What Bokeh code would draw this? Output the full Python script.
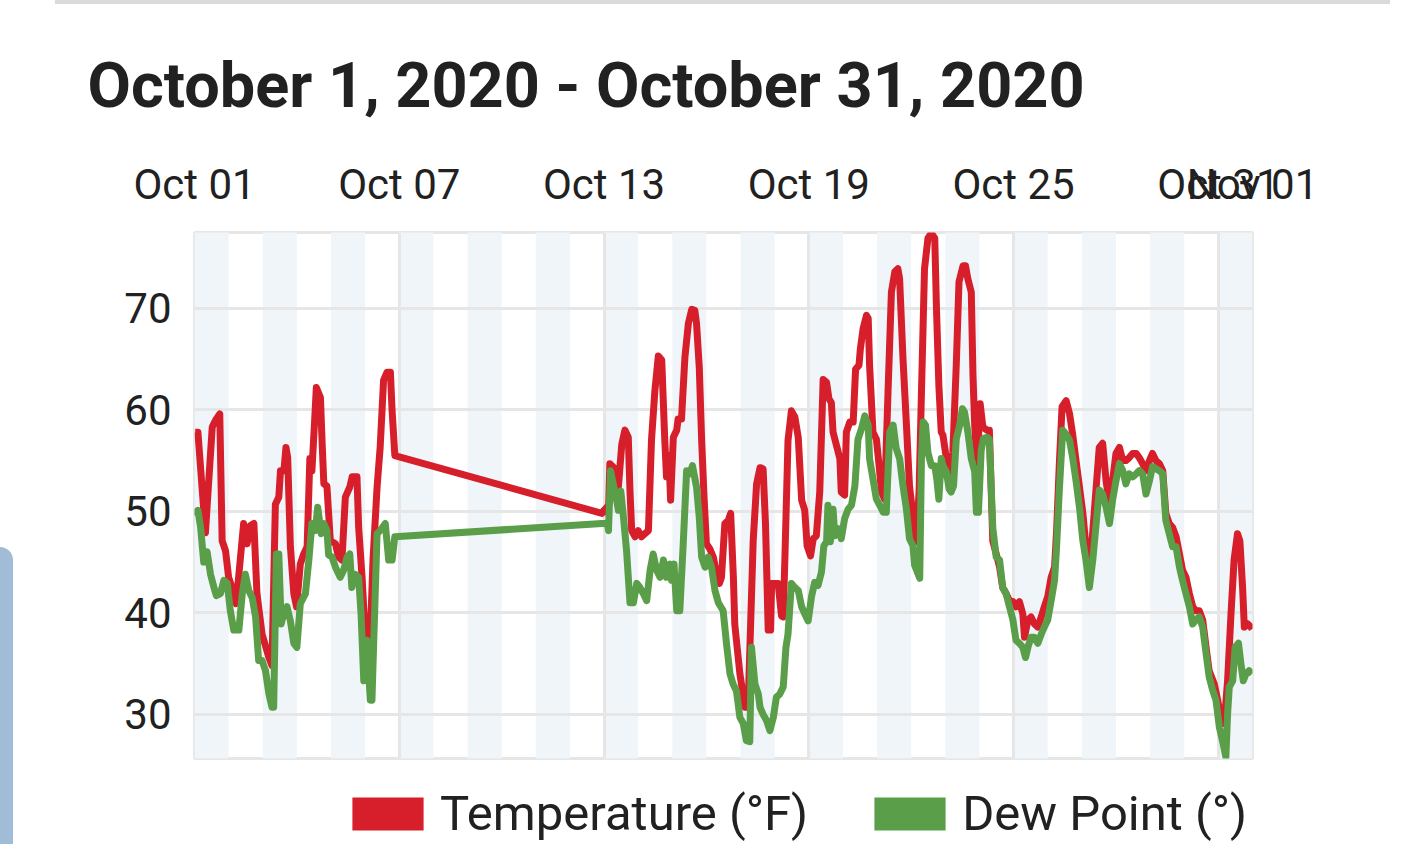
import pandas as pd
from bokeh.plotting import figure
from bokeh.models import (Range1d, FixedTicker, DatetimeTickFormatter, Legend,
                          LegendItem, Div)
from bokeh.layouts import column
from bokeh.embed import file_html
from bokeh.resources import INLINE

title_text = "October 1, 2020 - October 31, 2020"
series_names = ["Temperature (°F)", "Dew Point (°)"]
tick_dates = ["2020-10-01", "2020-10-07", "2020-10-13", "2020-10-19",
              "2020-10-25", "2020-10-31", "2020-11-01"]
y_ticks = [30, 40, 50, 60, 70]
band_dates = ["2020-10-%02d" % d for d in range(1, 32, 2)]

# time as days since Oct 1 00:00
temp_day = [0.02, 0.10, 0.32, 0.52, 0.62, 0.74, 0.81, 0.91, 1.00, 1.13, 1.22, 1.44,
            1.54, 1.64, 1.74, 1.83, 1.98, 2.18, 2.27, 2.37, 2.47, 2.52, 2.62, 2.68,
            2.73, 2.81, 2.91, 2.99, 3.10, 3.20, 3.30, 3.38, 3.44, 3.51, 3.57, 3.69,
            3.74, 3.79, 3.88, 3.98, 4.13, 4.22, 4.32, 4.42, 4.55, 4.62, 4.76, 4.81,
            4.91, 5.00, 5.15, 5.23, 5.35, 5.44, 5.54, 5.64, 5.74, 5.79, 5.87,
            11.94, 12.00, 12.08, 12.13, 12.17, 12.32, 12.42, 12.52, 12.61, 12.71,
            12.76, 12.81, 12.91, 13.00, 13.10, 13.20, 13.30, 13.39, 13.49, 13.59,
            13.69, 13.78, 13.83, 13.90, 13.95, 14.03, 14.13, 14.17, 14.27, 14.37,
            14.47, 14.57, 14.66, 14.71, 14.79, 14.86, 14.93, 15.00, 15.10, 15.20,
            15.30, 15.38, 15.44, 15.54, 15.64, 15.71, 15.79, 15.83, 15.98, 16.13,
            16.22, 16.37, 16.47, 16.57, 16.66, 16.73, 16.81, 16.88, 16.91, 17.00,
            17.10, 17.20, 17.25, 17.30, 17.39, 17.49, 17.59, 17.69, 17.79, 17.88,
            17.95, 18.05, 18.13, 18.22, 18.32, 18.42, 18.52, 18.59, 18.66, 18.71,
            18.81, 18.91, 18.95, 19.05, 19.10, 19.20, 19.30, 19.37, 19.47, 19.51,
            19.59, 19.69, 19.74, 19.78, 19.88, 19.98, 20.06, 20.13, 20.22, 20.32,
            20.42, 20.52, 20.61, 20.66, 20.76, 20.86, 20.95, 21.05, 21.15, 21.23,
            21.30, 21.39, 21.49, 21.59, 21.69, 21.74, 21.81, 21.88, 21.93, 22.03,
            22.13, 22.22, 22.32, 22.40, 22.52, 22.59, 22.66, 22.76, 22.81, 22.86,
            22.93, 23.02, 23.10, 23.22, 23.29, 23.39, 23.49, 23.59, 23.68, 23.78,
            23.88, 23.98, 24.07, 24.17, 24.27, 24.32, 24.42, 24.51, 24.61, 24.71,
            24.81, 24.90, 25.00, 25.10, 25.20, 25.26, 25.34, 25.42, 25.54, 25.64,
            25.73, 25.83, 25.93, 26.03, 26.12, 26.22, 26.30, 26.42, 26.51, 26.61,
            26.71, 26.81, 26.90, 27.00, 27.10, 27.20, 27.29, 27.39, 27.49, 27.59,
            27.68, 27.78, 27.88, 27.98, 28.07, 28.17, 28.27, 28.37, 28.46, 28.56,
            28.66, 28.76, 28.86, 28.95, 29.05, 29.15, 29.25, 29.34, 29.44, 29.54,
            29.64, 29.73, 29.88, 29.98, 30.07, 30.17, 30.27, 30.37, 30.46, 30.56,
            30.63, 30.71, 30.76, 30.86, 30.95, 30.99]
temp_f = [57.8, 57.8, 47.9, 58.3, 59.0, 59.6, 47.1, 46.1, 43.5, 42.2, 40.9, 48.8,
          46.8, 48.6, 48.8, 41.9, 37.9, 35.6, 34.8, 50.7, 51.4, 54.0, 54.0, 56.3,
          55.3, 46.5, 41.9, 40.6, 44.8, 45.8, 46.5, 55.2, 54.0, 58.3, 62.2, 61.2,
          56.7, 52.7, 52.5, 47.1, 46.8, 45.5, 45.2, 51.4, 52.4, 53.4, 53.4, 48.4,
          43.5, 37.9, 37.6, 45.2, 52.4, 56.3, 62.9, 63.7, 63.7, 59.9, 55.5,
          49.8, 50.1, 50.4, 49.8, 54.7, 54.2, 52.4, 56.6, 58.0, 57.3,
          52.0, 48.1, 47.5, 48.1, 47.5, 47.8, 48.1, 57.0, 61.9, 65.3,
          64.9, 57.0, 53.4, 55.5, 51.1, 57.3, 58.0, 59.1, 59.1, 65.2,
          68.5, 69.9, 69.8, 68.5, 64.2, 57.0, 51.4, 46.8, 46.3, 45.5,
          43.8, 42.9, 43.5, 48.8, 49.1, 49.8, 43.5, 38.9, 34.0, 30.7,
          30.7, 47.1, 52.7, 54.3, 54.2, 48.8, 38.3, 38.3, 42.9, 42.9,
          42.9, 39.7, 39.6, 45.5, 57.0, 59.9, 59.3, 57.3, 51.1, 50.1,
          46.6, 45.6, 47.3, 47.6, 51.9, 63.0, 62.7, 61.1, 60.7, 57.8,
          56.5, 55.2, 51.9, 51.6, 57.8, 58.8, 58.8, 64.0, 64.4, 66.0,
          68.0, 69.3, 69.0, 64.4, 57.8, 57.1, 54.5, 51.9, 51.2, 61.7,
          71.6, 73.6, 73.9, 72.9, 65.0, 58.5, 52.5, 49.6, 47.0, 51.9,
          61.7, 73.9, 76.9, 77.4, 76.9, 70.0, 62.4, 57.8, 57.5, 55.2,
          53.9, 55.8, 64.4, 72.6, 74.2, 74.2, 72.9, 71.6, 63.4, 58.5,
          54.5, 60.6, 58.3, 58.0, 58.0, 47.1, 45.8, 44.5, 42.5, 41.9,
          41.2, 41.1, 40.6, 41.1, 39.9, 37.6, 39.3, 39.6, 38.9, 38.6,
          39.6, 40.6, 41.6, 43.5, 44.5, 48.1, 54.7, 60.3, 60.9, 59.6,
          57.6, 55.0, 52.4, 49.8, 46.5, 44.5, 47.1, 52.4, 56.3, 56.7,
          53.0, 50.7, 53.0, 55.7, 56.3, 55.0, 55.0, 55.3, 55.7, 55.7,
          55.3, 54.7, 54.0, 55.0, 55.7, 55.0, 54.7, 54.0, 49.8, 48.8,
          48.4, 47.5, 45.8, 44.2, 43.5, 41.9, 40.6, 40.2, 40.2, 39.3,
          36.6, 34.3, 33.0, 31.4, 29.7, 29.1, 33.3, 39.9, 45.2, 47.8,
          47.1, 42.5, 38.6, 38.9, 38.6, 38.4]

dew_day = [0.00, 0.10, 0.18, 0.27, 0.37, 0.47, 0.57, 0.64, 0.76, 0.86, 0.96, 1.05,
           1.15, 1.30, 1.40, 1.49, 1.59, 1.69, 1.79, 1.88, 1.98, 2.08, 2.18, 2.27,
           2.32, 2.40, 2.47, 2.54, 2.61, 2.71, 2.81, 2.91, 3.00, 3.10, 3.25, 3.35,
           3.44, 3.54, 3.61, 3.71, 3.79, 3.88, 3.93, 4.03, 4.13, 4.27, 4.37, 4.47,
           4.55, 4.61, 4.71, 4.81, 4.88, 4.96, 5.05, 5.15, 5.20, 5.25, 5.35, 5.44,
           5.59, 5.69, 5.79, 5.87,
           11.94, 12.10, 12.13, 12.19, 12.27, 12.35, 12.42, 12.49, 12.57, 12.66,
           12.76, 12.86, 12.96, 13.05, 13.15, 13.25, 13.35, 13.44, 13.54, 13.64,
           13.74, 13.83, 13.93, 13.98, 14.05, 14.13, 14.22, 14.32, 14.42, 14.52,
           14.59, 14.71, 14.79, 14.86, 14.96, 15.05, 15.15, 15.25, 15.35, 15.49,
           15.59, 15.69, 15.78, 15.88, 15.98, 16.08, 16.17, 16.27, 16.32, 16.42,
           16.52, 16.57, 16.66, 16.76, 16.86, 16.96, 17.05, 17.15, 17.25, 17.33,
           17.39, 17.49, 17.59, 17.69, 17.79, 17.88, 17.98, 18.08, 18.17, 18.27,
           18.37, 18.44, 18.52, 18.56, 18.63, 18.71, 18.76, 18.86, 18.95, 19.05,
           19.15, 19.25, 19.35, 19.44, 19.54, 19.64, 19.74, 19.78, 19.88, 19.98,
           20.08, 20.18, 20.27, 20.37, 20.47, 20.56, 20.66, 20.76, 20.86, 20.95,
           21.05, 21.10, 21.25, 21.30, 21.35, 21.42, 21.49, 21.59, 21.69, 21.75,
           21.81, 21.88, 21.93, 22.03, 22.11, 22.17, 22.24, 22.32, 22.42, 22.50,
           22.56, 22.66, 22.76, 22.86, 22.91, 22.97, 23.05, 23.12, 23.22, 23.29,
           23.39, 23.49, 23.59, 23.68, 23.78, 23.88, 23.98, 24.07, 24.17, 24.27,
           24.35, 24.42, 24.51, 24.61, 24.71, 24.81, 24.90, 25.00, 25.10, 25.20,
           25.26, 25.34, 25.44, 25.54, 25.64, 25.73, 25.83, 25.93, 26.03, 26.12,
           26.22, 26.32, 26.42, 26.51, 26.61, 26.71, 26.81, 26.90, 27.00, 27.10,
           27.20, 27.29, 27.39, 27.49, 27.59, 27.68, 27.78, 27.88, 27.98, 28.07,
           28.17, 28.27, 28.37, 28.46, 28.56, 28.66, 28.76, 28.86, 28.95, 29.05,
           29.15, 29.25, 29.34, 29.44, 29.54, 29.64, 29.73, 29.83, 29.93, 30.03,
           30.12, 30.22, 30.27, 30.32, 30.42, 30.49, 30.59, 30.66, 30.73, 30.81,
           30.90, 30.99]
dew_f = [49.6, 50.1, 48.4, 45.0, 46.0, 43.8, 42.5, 41.7, 41.9, 43.2, 42.9, 40.2,
         38.3, 38.3, 41.9, 43.8, 42.2, 41.5, 39.6, 35.3, 35.3, 34.3, 32.0, 30.7,
         30.7, 45.8, 45.8, 38.9, 39.9, 40.6, 39.2, 37.0, 36.6, 40.9, 41.9, 45.2,
         48.8, 48.1, 50.4, 47.8, 48.8, 48.1, 45.7, 45.5, 44.5, 43.5, 44.2, 45.5,
         45.8, 42.5, 43.8, 43.5, 39.9, 33.3, 37.3, 31.4, 31.4, 37.0, 47.8, 48.1,
         48.8, 45.2, 45.2, 47.5,
         48.8, 48.8, 48.1, 54.0, 52.7, 51.4, 50.1, 52.0, 49.4, 46.1,
         41.0, 41.0, 42.9, 42.5, 41.9, 41.2, 44.2, 45.8, 44.2, 43.5,
         45.2, 43.5, 44.8, 43.2, 44.8, 40.2, 40.2, 46.8, 54.0, 53.7,
         54.5, 52.4, 49.4, 45.5, 44.5, 45.5, 44.5, 42.2, 41.0, 40.2,
         36.9, 34.0, 33.0, 32.3, 29.7, 29.1, 27.4, 27.3, 36.6, 33.0,
         32.0, 30.7, 30.0, 29.4, 28.4, 29.7, 31.7, 32.0, 32.7, 36.6,
         37.9, 42.9, 42.5, 42.2, 40.6, 39.9, 39.2, 41.6, 43.0, 42.7,
         44.0, 46.6, 47.0, 50.6, 47.0, 50.2, 47.6, 48.3, 47.3, 49.3,
         50.2, 50.6, 52.5, 57.1, 58.1, 59.4, 58.5, 55.2, 53.2, 51.2,
         50.6, 49.9, 49.9, 57.8, 58.5, 56.2, 55.2, 52.5, 50.2, 47.3,
         46.6, 44.7, 43.4, 55.2, 58.8, 58.5, 55.8, 54.5, 54.5, 53.2,
         51.2, 55.2, 54.5, 53.9, 52.2, 51.9, 52.5, 57.1, 58.5, 60.1,
         59.8, 57.8, 55.2, 53.9, 49.9, 49.9, 56.0, 57.2, 57.3, 57.1,
         48.4, 45.5, 45.2, 42.5, 41.9, 40.6, 39.3, 37.3, 37.0, 36.6,
         35.6, 36.6, 37.6, 37.6, 37.0, 37.9, 38.6, 39.3, 41.2, 43.2,
         46.5, 52.1, 58.0, 57.6, 57.0, 55.3, 53.0, 50.4, 47.1, 45.2,
         42.5, 45.2, 48.8, 52.1, 51.7, 50.4, 48.8, 51.1, 53.0, 54.7,
         54.0, 52.7, 53.7, 53.4, 53.7, 54.0, 53.7, 51.7, 53.0, 54.4,
         54.2, 54.0, 53.7, 49.1, 47.8, 46.5, 46.5, 44.5, 43.2, 41.9,
         40.6, 38.9, 39.3, 39.6, 38.6, 36.0, 33.7, 32.4, 31.4, 28.7,
         27.4, 25.8, 30.0, 32.7, 33.3, 36.6, 37.0, 35.0, 33.3, 34.0,
         34.3, 34.0]

RED = "#d61f2b"
GREEN = "#5a9e49"
TEXT = "#212121"
GRID = "#e6e6e6"
BAND = "#f0f5fa"

start = pd.Timestamp("2020-10-01")
def to_time(days):
    return start + pd.to_timedelta(days, unit="D")

W = 1399
p = figure(width=W, height=764, x_axis_type="datetime", x_axis_location="above",
           x_range=Range1d(start, pd.Timestamp("2020-11-01")),
           y_range=Range1d(25.65, 77.47),
           output_backend="svg", toolbar_location=None,
           min_border_left=194, min_border_right=W - 1252,
           min_border_top=232, min_border_bottom=6,
           title=title_text)
p.background_fill_color = "white"
p.border_fill_color = "white"
p.outline_line_color = GRID
p.outline_line_width = 3

p.title.text_font = "Roboto"
p.title.text_font_style = "bold"
p.title.text_font_size = "63px"
p.title.text_color = TEXT
p.title.align = "left"
p.title.offset = -107
p.title.standoff = 69

# day bands
bl = pd.to_datetime(band_dates)
br = bl + pd.Timedelta(days=1)
bands = p.quad(left=bl, right=br, bottom=0, top=100, fill_color=BAND,
               line_color=None)
bands.level = "image"

xt = [pd.Timestamp(d).value // 10**6 for d in tick_dates]
p.xaxis.ticker = FixedTicker(ticks=xt)
p.xaxis.formatter = DatetimeTickFormatter(days="%b %d", months="%b %d",
                                          hours="%b %d", years="%b %d")
p.yaxis.ticker = FixedTicker(ticks=y_ticks)
for ax in (p.xaxis, p.yaxis):
    ax.axis_line_color = None
    ax.major_tick_line_color = None
    ax.minor_tick_line_color = None
    ax.major_tick_out = 0
    ax.major_tick_in = 0
    ax.major_label_text_font = "Roboto"
    ax.major_label_text_font_size = "42px"
    ax.major_label_text_color = TEXT
p.xaxis.major_label_standoff = 24
p.yaxis.major_label_standoff = 23

p.grid.grid_line_color = GRID
p.grid.grid_line_width = 3

p.line(to_time(temp_day), temp_f, line_color=RED, line_width=7, line_join="round")
p.line(to_time(dew_day), dew_f, line_color=GREEN, line_width=7, line_join="round")

# legend in its own strip below the chart (its frame lines up with the chart's)
lg = figure(width=W, height=78, x_range=Range1d(0, 1), y_range=Range1d(0, 1),
            x_axis_location=None, y_axis_location=None, toolbar_location=None,
            output_backend="svg", min_border=0, outline_line_color=None)
lg.grid.visible = False
lg.background_fill_color = "white"
lg.border_fill_color = "white"
kt = lg.quad(left=[5], right=[6], top=[6], bottom=[5], fill_color=RED, line_color=None)
kd = lg.quad(left=[5], right=[6], top=[6], bottom=[5], fill_color=GREEN, line_color=None)
legend = Legend(items=[LegendItem(label=series_names[0], renderers=[kt]),
                       LegendItem(label=series_names[1], renderers=[kd])],
                orientation="horizontal", location=(149, 0),
                glyph_width=89, glyph_height=41, label_standoff=8, spacing=57,
                padding=0, margin=0, border_line_color=None,
                background_fill_alpha=0,
                label_text_font="Roboto", label_text_font_size="49px",
                label_text_color=TEXT)
lg.add_layout(legend, "center")

deco = Div(text='<div style="position:fixed;left:0;top:547px;width:13px;height:297px;'
                'background:#a0bcd6;border-top-right-radius:14px"></div>'
                '<div style="position:fixed;left:55px;top:0;width:1335px;height:4px;'
                'background:#dadada"></div>', width=0, height=0)

layout = column(p, lg, deco, spacing=0)
open("out.html", "w").write(file_html(layout, INLINE))
